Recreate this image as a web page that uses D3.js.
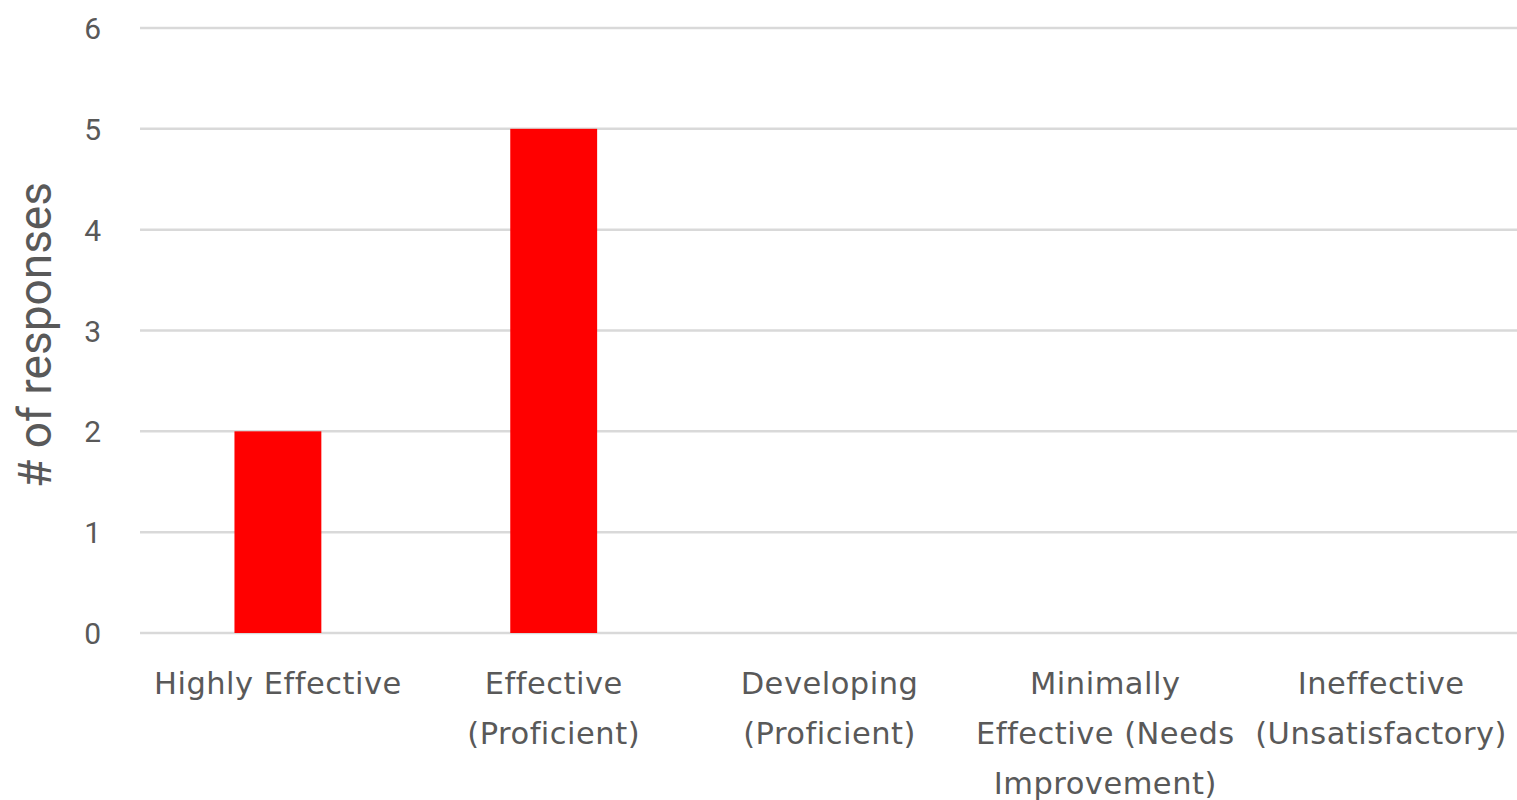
<!DOCTYPE html>
<html><head><meta charset="utf-8">
<script src="https://cdn.jsdelivr.net/npm/d3@7"></script>
<style>html,body{margin:0;padding:0;background:#fff;}svg{display:block;}</style>
</head><body>
<svg id="chart" width="1517" height="800"></svg>
<script>
const categories = ["Highly Effective", "Effective (Proficient)", "Developing (Proficient)", "Minimally Effective (Needs Improvement)", "Ineffective (Unsatisfactory)"];
const categoryLines = [["Highly Effective"], ["Effective", "(Proficient)"], ["Developing", "(Proficient)"], ["Minimally", "Effective (Needs", "Improvement)"], ["Ineffective", "(Unsatisfactory)"]];
const responses = [2, 5, 0, 0, 0];
const yTicks = [0, 1, 2, 3, 4, 5, 6];
const yTitle = "# of responses";

const svg = d3.select("#chart");
const font = "'DejaVu Sans', sans-serif";
const textColor = "#595959";
const x = d3.scaleBand().domain(categories).range([140, 1519]).paddingInner(0.685).paddingOuter(0.3425);
const y = d3.scaleLinear().domain([0, 6]).range([633, 28]);

// gridlines
svg.append("g").selectAll("line").data(yTicks).join("line")
  .attr("x1", 140).attr("x2", 1517)
  .attr("y1", d => y(d)).attr("y2", d => y(d))
  .attr("stroke", "#d9d9d9").attr("stroke-width", 2.5);

// y tick labels
const yAxis = d3.axisLeft(y).tickValues(yTicks).tickFormat(d3.format("d")).tickSize(0).tickPadding(0);
const yg = svg.append("g").attr("transform", "translate(101,0)").call(yAxis);
yg.select(".domain").remove();
yg.selectAll("text").attr("font-family", "Roboto, sans-serif").attr("font-size", 30).attr("fill", textColor).attr("dy", "0.35em");

// bars
svg.append("g").selectAll("rect").data(categories).join("rect")
  .attr("x", d => x(d)).attr("width", x.bandwidth())
  .attr("y", (d, i) => y(responses[i])).attr("height", (d, i) => y(0) - y(responses[i]))
  .attr("fill", "#ff0000");

// x labels
const xg = svg.append("g");
categories.forEach((c, i) => {
  const cx = x(c) + x.bandwidth() / 2;
  const t = xg.append("text").attr("text-anchor", "middle").attr("font-family", font).attr("font-size", 30.5)
    .attr("letter-spacing", 0.5).attr("fill", textColor);
  categoryLines[i].forEach((l, j) => t.append("tspan").attr("x", cx).attr("y", 694 + j * 50).text(l));
});

// y title
svg.append("text").attr("transform", "translate(51,335) rotate(-90)")
  .attr("text-anchor", "middle").attr("font-family", "Roboto, sans-serif").attr("font-size", 46).attr("fill", textColor)
  .text(yTitle);
</script>
</body></html>
